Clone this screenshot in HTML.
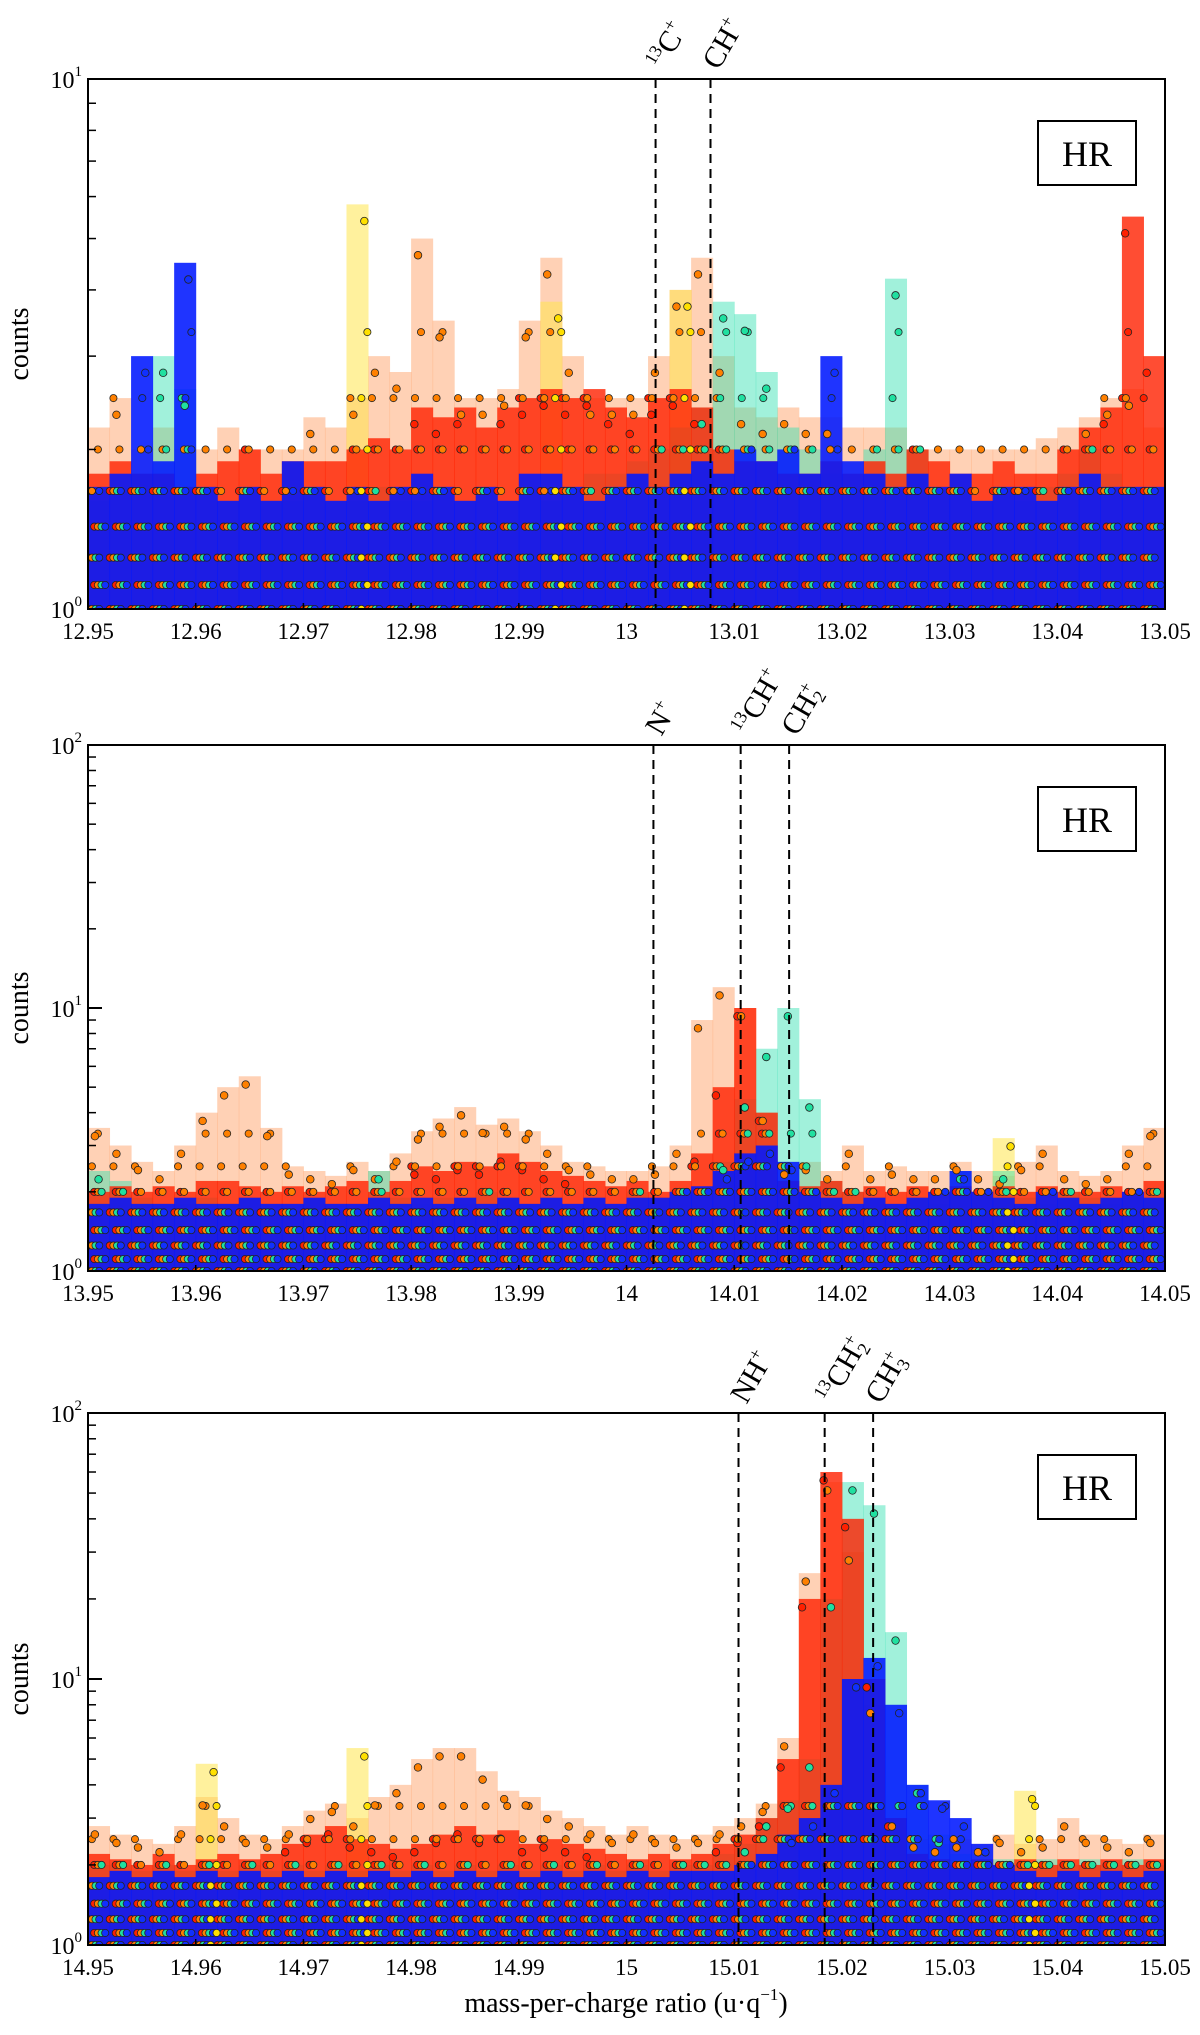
<!DOCTYPE html>
<html><head><meta charset="utf-8"><style>
html,body{margin:0;padding:0;background:#fff;}
svg{display:block;font-family:"Liberation Serif",serif;}
</style></head><body>
<svg id="fig" width="1200" height="2035" viewBox="0 0 1200 2035"></svg>
<script>
// ---- data (50 bins of width 0.002 per panel) ----
const p1Blue  =[1.7,1.8,3.0,1.9,4.5,1.7,1.6,1.7,1.6,1.9,1.7,1.6,1.7,1.6,1.7,1.8,1.7,1.6,1.7,1.6,1.8,1.8,1.7,1.6,1.7,1.8,1.7,1.8,1.9,1.8,2.0,1.9,2.0,1.8,3.0,1.9,1.8,1.7,1.8,1.7,1.8,1.6,1.7,1.7,1.6,1.7,1.8,1.7,1.7,1.7];
const p1Red   =[1.8,1.9,1.8,1.8,1.7,1.8,1.9,2.0,1.8,1.9,1.9,1.9,2.0,2.1,2.0,2.4,2.3,2.4,2.2,2.4,2.5,2.6,2.5,2.6,2.4,2.3,2.5,2.6,2.4,2.0,1.9,1.9,1.8,1.8,1.9,1.8,1.9,1.8,2.0,1.9,1.8,1.8,1.9,1.8,1.8,2.0,2.2,2.4,5.5,3.0];
const p1Peach =[2.2,2.5,2.0,2.2,2.0,2.0,2.2,2.0,2.0,2.0,2.3,2.2,2.5,3.0,2.8,5.0,3.5,2.5,2.5,2.6,3.5,4.6,3.0,2.5,2.5,2.5,3.0,4.0,4.6,3.0,2.4,2.3,2.4,2.3,2.3,2.2,2.2,2.2,2.0,2.0,2.0,2.0,2.0,2.0,2.1,2.2,2.3,2.5,2.6,2.2];
const p1Teal  =[1.6,1.7,1.8,3.0,2.6,1.7,1.6,1.7,1.6,1.6,1.7,1.6,1.6,1.7,1.6,1.6,1.7,1.6,1.7,1.6,1.7,1.6,1.7,1.8,1.8,1.9,2.0,2.2,2.4,3.8,3.6,2.8,2.2,2.0,1.8,1.7,2.0,4.2,2.0,1.7,1.7,1.6,1.7,1.6,1.7,1.8,2.0,1.8,1.7,1.7];
const p1Yellow=[0,0,0,0,0,0,0,0,0,0,0,0,5.8,0,0,0,0,0,0,0,0,3.8,0,0,0,0,0,4.0,0,0,0,0,0,0,0,0,0,0,0,0,0,0,0,0,0,0,0,0,0,0];

const p2Blue  =[1.8,1.9,1.8,1.8,1.9,1.8,1.8,1.9,1.8,1.8,1.9,1.8,1.8,1.9,1.8,1.9,1.8,1.9,1.8,1.9,1.8,1.9,1.8,1.9,1.8,1.9,1.9,2.0,2.1,2.4,2.8,3.0,2.6,2.0,1.9,1.8,1.9,1.8,1.9,2.0,2.4,2.0,1.9,1.8,2.0,1.9,1.8,1.9,2.0,1.9];
const p2Red   =[2.0,2.1,2.0,2.1,2.0,2.2,2.2,2.1,2.0,2.1,2.0,2.1,2.2,2.0,2.2,2.5,2.4,2.6,2.5,2.8,2.6,2.4,2.3,2.2,2.1,2.2,2.0,2.2,2.8,5.0,10.0,4.0,2.2,2.1,2.2,2.0,2.1,2.0,2.1,2.0,2.1,2.0,2.1,2.0,2.1,2.0,2.0,2.1,2.0,2.2];
const p2Peach =[3.5,3.0,2.6,2.4,3.0,4.0,5.0,5.5,3.5,2.5,2.4,2.3,2.6,2.4,2.8,3.4,3.8,4.2,3.6,3.8,3.4,3.0,2.6,2.5,2.4,2.4,2.5,3.0,9.0,12.0,10.0,4.0,2.5,2.6,2.4,3.0,2.4,2.5,2.4,2.4,2.6,2.4,2.3,2.6,3.0,2.4,2.3,2.4,3.0,3.5];
const p2Teal  =[2.4,2.2,1.9,1.8,1.8,1.9,1.8,1.9,1.8,1.8,1.9,1.8,1.8,2.4,1.9,1.8,1.9,1.8,2.0,1.9,1.8,1.9,1.8,1.9,1.8,2.0,1.9,2.0,2.0,2.6,4.5,7.0,10.0,4.5,2.2,2.0,1.9,1.8,1.9,1.8,2.4,1.9,2.4,1.9,1.8,2.0,1.9,1.8,1.9,2.0];
const p2Yellow=[0,0,0,0,0,0,0,0,0,0,0,0,0,0,0,0,0,0,0,0,0,0,0,0,0,0,0,0,0,0,0,0,0,0,0,0,0,0,0,0,0,0,3.2,0,0,0,0,0,0,0];

const p3Blue  =[1.8,1.9,1.8,1.9,1.8,1.9,1.8,1.9,1.8,1.9,1.8,1.9,1.8,1.9,1.8,1.9,1.8,1.9,1.8,1.9,1.8,1.9,1.8,1.9,1.8,1.9,1.8,1.9,1.9,1.9,2.0,2.2,2.6,3.0,4.0,10.0,12.0,8.0,4.0,3.5,3.0,2.4,2.0,1.9,1.8,1.9,1.8,1.9,1.8,1.9];
const p3Red   =[2.2,2.1,2.0,2.2,2.0,2.1,2.2,2.1,2.2,2.4,2.6,2.8,2.5,2.4,2.3,2.4,2.6,2.8,2.6,2.7,2.4,2.5,2.4,2.3,2.2,2.1,2.2,2.1,2.2,2.4,2.6,3.0,5.0,20.0,60.0,40.0,10.0,3.0,2.2,2.1,2.0,2.1,2.0,2.1,2.0,2.1,2.0,2.1,2.0,2.1];
const p3Peach =[2.8,2.6,2.5,2.4,2.8,3.6,3.0,2.6,2.5,2.8,3.2,3.4,3.0,3.6,4.0,5.0,5.5,5.5,4.5,3.8,3.6,3.2,3.0,2.8,2.6,2.8,2.6,2.5,2.6,2.8,3.0,3.4,6.0,25.0,55.0,30.0,8.0,3.0,2.5,2.4,2.5,2.4,2.6,2.4,2.5,3.0,2.6,2.5,2.4,2.6];
const p3Teal  =[2.0,2.0,1.9,2.0,1.9,2.0,1.9,2.0,1.9,2.0,1.9,2.0,1.9,2.0,1.9,2.0,1.9,2.0,1.9,2.0,1.9,2.0,1.9,2.0,1.9,2.0,1.9,2.0,2.0,2.2,2.4,3.0,3.5,5.0,20.0,55.0,45.0,15.0,4.0,2.6,2.2,2.0,2.1,2.0,2.1,2.0,2.1,2.0,2.1,2.0];
const p3Yellow=[0,0,0,0,0,4.8,0,0,0,0,0,0,5.5,0,0,0,0,0,0,0,0,0,0,0,0,0,0,0,0,0,0,0,0,0,0,0,0,0,0,0,0,0,0,3.8,0,0,0,0,0,0];

const levels=[1,1.11,1.25,1.43,1.67,2,2.5,3.33];
const xTicks1=["12.95","12.96","12.97","12.98","12.99","13","13.01","13.02","13.03","13.04","13.05"];
const xTicks2=["13.95","13.96","13.97","13.98","13.99","14","14.01","14.02","14.03","14.04","14.05"];
const xTicks3=["14.95","14.96","14.97","14.98","14.99","15","15.01","15.02","15.03","15.04","15.05"];
const ions1=[["13","C","+",""],["","CH","+",""]]; const ionPos1=[13.0027,13.0078];
const ions2=[["","N","+",""],["13","CH","+",""],["","CH","+","2"]]; const ionPos2=[14.0025,14.0106,14.0151];
const ions3=[["","NH","+",""],["13","CH","+","2"],["","CH","+","3"]]; const ionPos3=[15.0104,15.0184,15.0229];

const NS="http://www.w3.org/2000/svg";
const svg=document.getElementById('fig');
function mk(tag,attrs,parent){const e=document.createElementNS(NS,tag);for(const k in attrs)e.setAttribute(k,attrs[k]);(parent||svg).appendChild(e);return e;}

function panel(cfg){
  const L=88,R=1165,T=cfg.top,B=cfg.bot;
  const x0=cfg.x0,x1=x0+0.1,ymax=cfg.ymax;
  const sx=v=>L+(v-x0)/(x1-x0)*(R-L);
  const sy=v=>B-Math.log10(v)/Math.log10(ymax)*(B-T);
  const g=mk('g',{});
  
  
  const clipId='clip'+cfg.name;
  const cp=mk('clipPath',{id:clipId},g);mk('rect',{x:L,y:T,width:R-L,height:B-T},cp);
  const plot=mk('g',{'clip-path':'url(#'+clipId+')'},g);
  const series=[
    {d:cfg.peach,c:'#ff9a5a',o:0.45,m:'#ff8000',name:'orange-series'},
    {d:cfg.yellow,c:'#ffe64d',o:0.55,m:'#ffe000',name:'yellow-series'},
    {d:cfg.teal,c:'#2ee0b0',o:0.45,m:'#20e0a0',name:'teal-series'},
    {d:cfg.red,c:'#ff2000',o:0.8,m:'#ff2000',name:'red-series'},
    {d:cfg.blue,c:'#0018ff',o:0.88,m:'#1030ff',name:'blue-series'}
  ];
  const bw=0.002;
  series.forEach((s,si)=>{
    s.d.forEach((v,i)=>{
      if(v<=1)return;
      const xa=sx(x0+i*bw),xb=sx(x0+(i+1)*bw);
      const r=mk('rect',{x:xa,y:sy(v),width:xb-xa+0.5,height:B-sy(v),fill:s.c,'fill-opacity':s.o},plot);
      
      
    });
  });
  const order=[3,0,2,4,1];
  order.forEach((si,k)=>{
    const s=series[si];
    s.d.forEach((v,i)=>{
      if(v<=1)return;
      const cx=sx(x0+(i+0.15+k*0.17)*bw);
      levels.forEach((lv,li)=>{
        if(lv<=v){
          const c=mk('circle',{cx:cx+((li%2)?3:-3),cy:sy(lv),r:3.6,fill:s.m,stroke:'#222','stroke-width':0.8},plot);
          
          
        }
      });
      if(v>2.2){
        const c=mk('circle',{cx:cx,cy:sy(v*0.93),r:3.8,fill:s.m,stroke:'#222','stroke-width':0.8},plot);
        
        
      }
    });
  });
  cfg.ionPos.forEach((p,i)=>{
    const x=sx(p);
    const l=mk('line',{x1:x,y1:T,x2:x,y2:B,stroke:'#000','stroke-width':2,'stroke-dasharray':'9,6'},g);
    
    
    const t=mk('text',{x:0,y:0,'font-size':30,transform:`translate(${x+8},${T-8}) rotate(-60)`},g);
    
    
    const ion=cfg.ions[i];
    if(ion[0]){const a=mk('tspan',{'font-size':18,dy:-11},t);a.textContent=ion[0];const b=mk('tspan',{dy:11},t);b.textContent=ion[1];}
    else{const b=mk('tspan',{},t);b.textContent=ion[1];}
    if(ion[3]){const c=mk('tspan',{'font-size':18,dy:-12},t);c.textContent=ion[2];const d=mk('tspan',{'font-size':18,dy:17,dx:-10},t);d.textContent=ion[3];}
    else{const c=mk('tspan',{'font-size':18,dy:-12},t);c.textContent=ion[2];}
  });
  const fr=mk('rect',{x:L,y:T,width:R-L,height:B-T,fill:'none',stroke:'#000','stroke-width':2},g);
  
  cfg.xt.forEach((lab,i)=>{
    const x=L+i*(R-L)/10;
    mk('line',{x1:x,y1:B,x2:x,y2:B-6,stroke:'#000','stroke-width':1.5},g);
    const t=mk('text',{x:x,y:B+30,'font-size':23,'text-anchor':'middle'},g);
    t.textContent=lab;
    
  });
  const dec=Math.round(Math.log10(ymax));
  for(let d=0;d<=dec;d++){
    const y=sy(Math.pow(10,d));
    mk('line',{x1:L,y1:y,x2:L+14,y2:y,stroke:'#000','stroke-width':2},g);
    const t=mk('text',{x:L-6,y:y+9,'font-size':24,'text-anchor':'end'},g);
    
    const a=mk('tspan',{},t);a.textContent='10';
    const b=mk('tspan',{'font-size':15,dy:-12},t);b.textContent=String(d);
    if(d<dec)for(let m=2;m<=9;m++){const yy=sy(m*Math.pow(10,d));mk('line',{x1:L,y1:yy,x2:L+8,y2:yy,stroke:'#000','stroke-width':1.5},g);}
  }
  const yt=mk('text',{x:0,y:0,'font-size':28,'text-anchor':'middle',transform:`translate(28,${(T+B)/2}) rotate(-90)`},g);
  yt.textContent='counts';
  const bx=mk('rect',{x:1038,y:T+42,width:98,height:64,fill:'#fff',stroke:'#000','stroke-width':2},g);
  
  const ht=mk('text',{x:1087,y:T+87,'font-size':36,'text-anchor':'middle'},g);
  ht.textContent='HR';
}
panel({name:'panel-13',top:79,bot:609,x0:12.95,ymax:10,blue:p1Blue,red:p1Red,peach:p1Peach,teal:p1Teal,yellow:p1Yellow,xt:xTicks1,ions:ions1,ionPos:ionPos1});
panel({name:'panel-14',top:745,bot:1271,x0:13.95,ymax:100,blue:p2Blue,red:p2Red,peach:p2Peach,teal:p2Teal,yellow:p2Yellow,xt:xTicks2,ions:ions2,ionPos:ionPos2});
panel({name:'panel-15',top:1413,bot:1945,x0:14.95,ymax:100,blue:p3Blue,red:p3Red,peach:p3Peach,teal:p3Teal,yellow:p3Yellow,xt:xTicks3,ions:ions3,ionPos:ionPos3});
const xl=mk('text',{x:626,y:2012,'font-size':28,'text-anchor':'middle'});


xl.innerHTML='mass-per-charge ratio (u·q<tspan font-size="17" dy="-12">−1</tspan><tspan dy="12">)</tspan>';
</script>
</body></html>
